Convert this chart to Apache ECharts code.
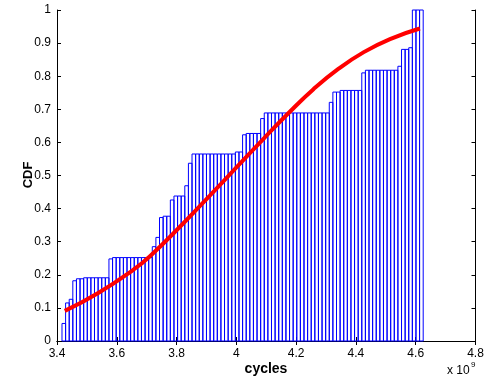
<!DOCTYPE html>
<html><head><meta charset="utf-8">
<script src="https://cdn.jsdelivr.net/npm/echarts@6/dist/echarts.min.js"></script>
<style>html,body{margin:0;padding:0;background:#fff}#c{width:487px;height:383px}</style>
</head><body><div id="c"></div>
<script>
// x values in units of 1e9 cycles
const binStart = 3.4167;
const binEnd = 4.625;
const cdfValues = [
  0.053, 0.115, 0.126, 0.182, 0.188, 0.188,
  0.191, 0.191, 0.191, 0.191, 0.191, 0.191, 0.191,
  0.248,
  0.252, 0.252, 0.252, 0.252, 0.252, 0.252, 0.252, 0.252, 0.252, 0.252, 0.252,
  0.285, 0.313, 0.373, 0.377, 0.377,
  0.426, 0.438, 0.438, 0.438,
  0.469, 0.537,
  0.565, 0.565, 0.565, 0.565, 0.565, 0.565, 0.565, 0.565, 0.565, 0.565, 0.565, 0.565,
  0.571, 0.571,
  0.623, 0.627, 0.627, 0.627, 0.627,
  0.672,
  0.689, 0.689, 0.689, 0.689, 0.689, 0.689, 0.689, 0.689, 0.689, 0.689, 0.689, 0.689, 0.689, 0.689, 0.689, 0.689, 0.689, 0.689,
  0.721, 0.752, 0.752,
  0.757, 0.757, 0.757, 0.757, 0.757, 0.757,
  0.810,
  0.818, 0.818, 0.818, 0.818, 0.818, 0.818, 0.818, 0.818, 0.818,
  0.830, 0.881, 0.881, 0.886,
  1.0, 1.0, 1.0
];
const fitX = [3.426, 3.538, 3.655, 3.711, 3.822, 3.912, 4.001, 4.090, 4.174, 4.257, 4.341, 4.425, 4.514, 4.614];
const fitY = [0.091, 0.145, 0.215, 0.256, 0.355, 0.440, 0.525, 0.610, 0.688, 0.760, 0.822, 0.872, 0.912, 0.944];
const xTicks = [3.4, 3.6, 3.8, 4.0, 4.2, 4.4, 4.6, 4.8];
const yTicks = [0, 0.1, 0.2, 0.3, 0.4, 0.5, 0.6, 0.7, 0.8, 0.9, 1];

const binW = (binEnd - binStart) / cdfValues.length;
const barData = cdfValues.map((v, i) => [binStart + i * binW, binStart + (i + 1) * binW, v]);
const lineData = fitX.map((x, i) => [x, fitY[i]]);

const FONT = 'Liberation Sans, Arial, Helvetica, sans-serif';
const fmt = v => String(+(+v).toFixed(1));

const chart = echarts.init(document.getElementById('c'), null, {renderer: 'canvas'});
const axisCommon = {
  axisLine: {show: true, lineStyle: {color: '#000', width: 1}},
  axisTick: {show: true, inside: true, length: 4, lineStyle: {color: '#000'}},
  splitLine: {show: false}
};
chart.setOption({
  animation: false,
  backgroundColor: '#fff',
  grid: {left: 57, right: 11.5, top: 10, bottom: 42},
  xAxis: [
    Object.assign({type: 'value', min: xTicks[0], max: xTicks[xTicks.length - 1], interval: 0.2, position: 'bottom',
      axisLabel: {show: true, formatter: fmt, color: '#000', fontFamily: FONT, fontSize: 12, margin: 7}}, axisCommon),
    Object.assign({type: 'value', min: xTicks[0], max: xTicks[xTicks.length - 1], interval: 0.2, position: 'top',
      axisLabel: {show: false}}, axisCommon)
  ],
  yAxis: [
    Object.assign({type: 'value', min: yTicks[0], max: yTicks[yTicks.length - 1], interval: 0.1, position: 'left',
      axisLabel: {show: true, formatter: fmt, color: '#000', fontFamily: FONT, fontSize: 12, margin: 6}}, axisCommon),
    Object.assign({type: 'value', min: yTicks[0], max: yTicks[yTicks.length - 1], interval: 0.1, position: 'right',
      axisLabel: {show: false}}, axisCommon)
  ],
  series: [
    {
      type: 'custom',
      xAxisIndex: 0, yAxisIndex: 0,
      encode: {x: [0, 1], y: 2},
      data: barData,
      renderItem: function (params, api) {
        const p0 = api.coord([api.value(0), api.value(2)]);
        const p1 = api.coord([api.value(1), 0]);
        return {
          type: 'rect',
          shape: {x: p0[0], y: p0[1], width: p1[0] - p0[0], height: p1[1] - p0[1]},
          style: {fill: 'rgba(0,0,0,0)', stroke: '#0000ff', lineWidth: 1}
        };
      },
      z: 2
    },
    {
      type: 'line',
      xAxisIndex: 0, yAxisIndex: 0,
      data: lineData,
      smooth: true,
      symbol: 'none',
      lineStyle: {color: '#ff0000', width: 4},
      z: 5
    }
  ],
  graphic: [
    {type: 'text', x: 266, y: 369, style: {text: 'cycles', fill: '#000', font: 'bold 14px ' + FONT, textAlign: 'center', textVerticalAlign: 'middle'}},
    {type: 'text', x: 28, y: 175, rotation: Math.PI / 2, style: {text: 'CDF', fill: '#000', font: 'bold 13px ' + FONT, textAlign: 'center', textVerticalAlign: 'middle'}},
    {type: 'text', x: 447, y: 371, style: {text: 'x 10', fill: '#000', font: '12px ' + FONT, textAlign: 'left', textVerticalAlign: 'middle'}},
    {type: 'text', x: 471, y: 365, style: {text: '9', fill: '#000', font: '8px ' + FONT, textAlign: 'left', textVerticalAlign: 'middle'}}
  ]
});
</script>
</body></html>
